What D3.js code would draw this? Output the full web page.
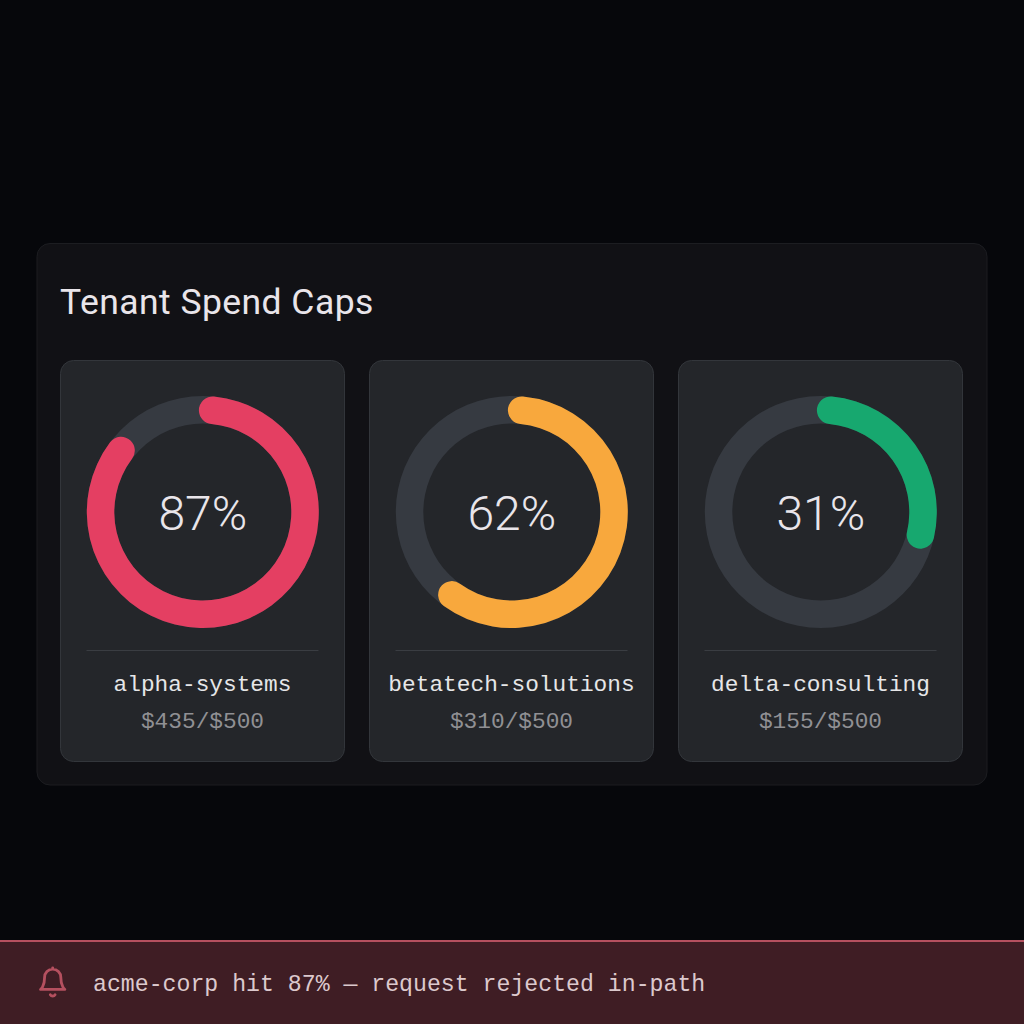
<!DOCTYPE html>
<html>
<head>
<meta charset="utf-8">
<script src="https://cdn.jsdelivr.net/npm/d3@7"></script>
<style>
html,body{margin:0;padding:0;background:#06070b;}
svg{display:block;}
</style>
</head>
<body>
<svg id="chart" width="1024" height="1024"></svg>
<script>
// Tenant spend data
const tenants = ["alpha-systems", "betatech-solutions", "delta-consulting"];
const percents = [87, 62, 31];
const spent = [435, 310, 155];
const caps = [500, 500, 500];
const arcColors = ["#e43f62", "#f8a83d", "#17a86f"];
const title = "Tenant Spend Caps";
const alertText = "acme-corp hit 87% \u2014 request rejected in-path";

const MONO = "'Liberation Mono','DejaVu Sans Mono',monospace";
const svg = d3.select("#chart");

// Outer panel
svg.append("rect").attr("x", 37).attr("y", 243.5).attr("width", 950).attr("height", 541.5)
  .attr("rx", 13).attr("fill", "#111115").attr("stroke", "#1c1d21").attr("stroke-width", 1);

svg.append("text").attr("x", 60).attr("y", 314)
  .attr("font-family", "Roboto").attr("font-weight", 400).attr("font-size", 35.5)
  .attr("letter-spacing", 0.45)
  .attr("fill", "#e9e5ea").text(title);

// Card layout
const xCard = d3.scaleBand().domain(tenants).range([60, 963]).paddingInner(0.0777);
const CARD_TOP = 360, CARD_H = 402;
const outerR = 116, innerR = 88.5;
const DEG = Math.PI / 180;
// Percent to angle; the rounded ends sit inside the sweep
const angle = d3.scaleLinear().domain([0, 100]).range([-2.2 * DEG, 362 * DEG]);
const arcGen = d3.arc().innerRadius(innerR).outerRadius(outerR);

const cards = svg.selectAll("g.card").data(tenants).join("g")
  .attr("class", "card")
  .attr("transform", d => `translate(${xCard(d)},${CARD_TOP})`);

cards.append("rect")
  .attr("x", 0.5).attr("y", 0.5)
  .attr("width", xCard.bandwidth() - 1).attr("height", CARD_H - 1)
  .attr("rx", 13).attr("fill", "#24262a").attr("stroke", "#33363b");

const cx = xCard.bandwidth() / 2;
const gauge = cards.append("g").attr("transform", `translate(${cx + 0.3},152)`);

gauge.append("path")
  .attr("d", arcGen({startAngle: 0, endAngle: 2 * Math.PI}))
  .attr("fill", "#363a41");

gauge.append("path")
  .attr("d", (d, i) => arcGen.cornerRadius((outerR - innerR) / 2)({startAngle: angle(0), endAngle: angle(percents[i])}))
  .attr("fill", (d, i) => arcColors[i]);

gauge.append("text")
  .attr("text-anchor", "middle").attr("y", 18)
  .attr("font-family", "Roboto").attr("font-weight", 300).attr("font-size", 48)
  .attr("fill", "#e9e5ea")
  .text((d, i) => percents[i] + "%");

cards.append("line")
  .attr("x1", cx - 116).attr("x2", cx + 116).attr("y1", 290.5).attr("y2", 290.5)
  .attr("stroke", "#3a3d42");

cards.append("text")
  .attr("x", cx).attr("y", 330.5).attr("text-anchor", "middle")
  .attr("font-family", MONO).attr("font-size", 22.8).attr("fill", "#e6e6e8")
  .text(d => d);

cards.append("text")
  .attr("x", cx).attr("y", 367.5).attr("text-anchor", "middle")
  .attr("font-family", MONO).attr("font-size", 22.8).attr("fill", "#909094")
  .text((d, i) => `$${spent[i]}/$${caps[i]}`);

// Alert banner
svg.append("rect").attr("x", 0).attr("y", 940).attr("width", 1024).attr("height", 84).attr("fill", "#3f1d24");
svg.append("rect").attr("x", 0).attr("y", 940).attr("width", 1024).attr("height", 2).attr("fill", "#b5505f");

const bell = svg.append("g")
  .attr("transform", "translate(36.5,966.5) scale(1.35)")
  .attr("fill", "none").attr("stroke", "#b5505f").attr("stroke-width", 2.1)
  .attr("stroke-linecap", "round").attr("stroke-linejoin", "round");
bell.append("path").attr("d", "M12 1v1M18 8A6 6 0 0 0 6 8c0 7-3 9-3 9h18s-3-2-3-9");
bell.append("path").attr("d", "M13.73 21a2 2 0 0 1-3.46 0").attr("fill", "#b5505f");

svg.append("text").attr("x", 93).attr("y", 990.5)
  .attr("font-family", MONO).attr("font-size", 23.2).attr("fill", "#dcc9cd")
  .text(alertText);
</script>
</body>
</html>
